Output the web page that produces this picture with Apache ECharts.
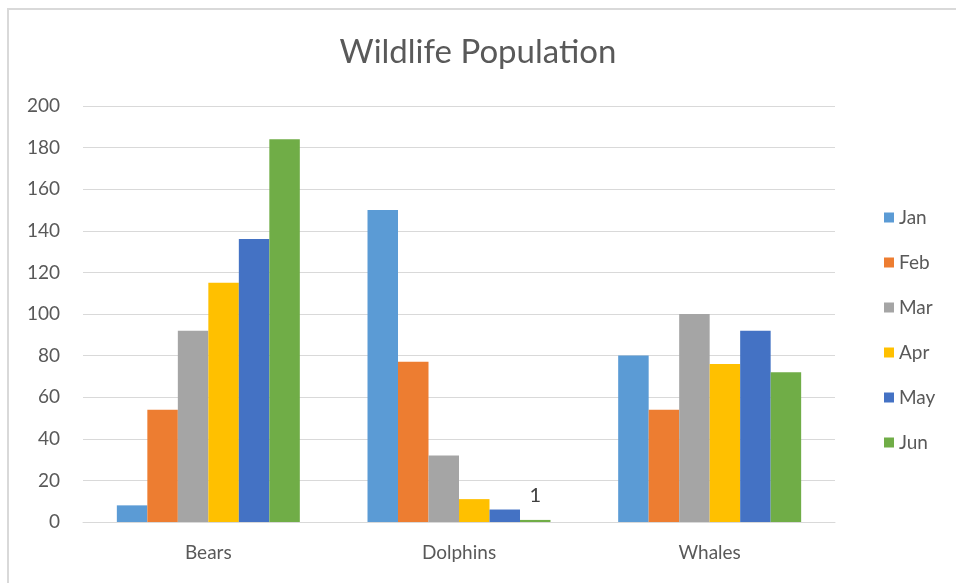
<!DOCTYPE html>
<html>
<head>
<meta charset="utf-8">
<title>Wildlife Population</title>
<script src="https://cdn.jsdelivr.net/npm/echarts@6/dist/echarts.min.js"></script>
<style>
  html, body { margin: 0; padding: 0; background: #ffffff; }
  #chart { width: 956px; height: 583px; }
</style>
</head>
<body>
<div id="chart"></div>
<script>
// Animal populations by month
const categories = ['Bears', 'Dolphins', 'Whales'];
const months = ['Jan', 'Feb', 'Mar', 'Apr', 'May', 'Jun'];
const jan = [8, 150, 80];
const feb = [54, 77, 54];
const mar = [92, 32, 100];
const apr = [115, 11, 76];
const may = [136, 6, 92];
const jun = [184, 1, 72];
const yTicks = [0, 20, 40, 60, 80, 100, 120, 140, 160, 180, 200];

// The only value label shown on the chart
const labeledPoint = { month: 'Jun', category: 'Dolphins' };

const palette = ['#5B9BD5', '#ED7D31', '#A5A5A5', '#FFC000', '#4472C4', '#70AD47'];
const seriesValues = [jan, feb, mar, apr, may, jun];
const fontFamily = 'Lato, "Open Sans", sans-serif';

const series = months.map((m, i) => ({
  name: m,
  type: 'bar',
  barGap: '0%',
  barCategoryGap: '27%',
  itemStyle: { color: palette[i] },
  emphasis: { disabled: true },
  data: seriesValues[i].map((v, j) => {
    const item = { value: v };
    if (m === labeledPoint.month && categories[j] === labeledPoint.category) {
      item.label = {
        show: true,
        position: 'top',
        distance: 14,
        color: '#404040',
        fontSize: 20,
        fontFamily: fontFamily
      };
    }
    return item;
  })
}));

const chart = echarts.init(document.getElementById('chart'), null, { renderer: 'canvas' });
chart.setOption({
  animation: false,
  backgroundColor: '#ffffff',
  color: palette,
  title: {
    text: 'Wildlife Population',
    left: 'center',
    top: 36,
    padding: 0,
    textStyle: { color: '#595959', fontSize: 33, fontWeight: 'normal', fontFamily: fontFamily }
  },
  legend: {
    orient: 'vertical',
    left: 879,
    top: 203,
    itemWidth: 10,
    itemHeight: 10,
    itemGap: 26,
    icon: 'rect',
    data: months,
    textStyle: { color: '#595959', fontSize: 19, lineHeight: 18, fontFamily: fontFamily }
  },
  grid: { left: 83, right: 121, top: 106, bottom: 61, containLabel: false },
  xAxis: {
    type: 'category',
    data: categories,
    axisLine: { lineStyle: { color: '#D9D9D9', width: 1 } },
    axisTick: { show: false },
    axisLabel: { color: '#595959', fontSize: 19, margin: 21, fontFamily: fontFamily }
  },
  yAxis: {
    type: 'value',
    min: yTicks[0],
    max: yTicks[yTicks.length - 1],
    interval: yTicks[1] - yTicks[0],
    axisLine: { show: false },
    axisTick: { show: false },
    axisLabel: { color: '#595959', fontSize: 19, margin: 23, fontFamily: fontFamily },
    splitLine: { lineStyle: { color: '#D9D9D9', width: 1 } }
  },
  graphic: [{
    type: 'rect',
    shape: { x: 8, y: 9, width: 960, height: 590 },
    style: { fill: 'none', stroke: '#D9D9D9', lineWidth: 2 },
    silent: true
  }],
  series: series
});
</script>
</body>
</html>
